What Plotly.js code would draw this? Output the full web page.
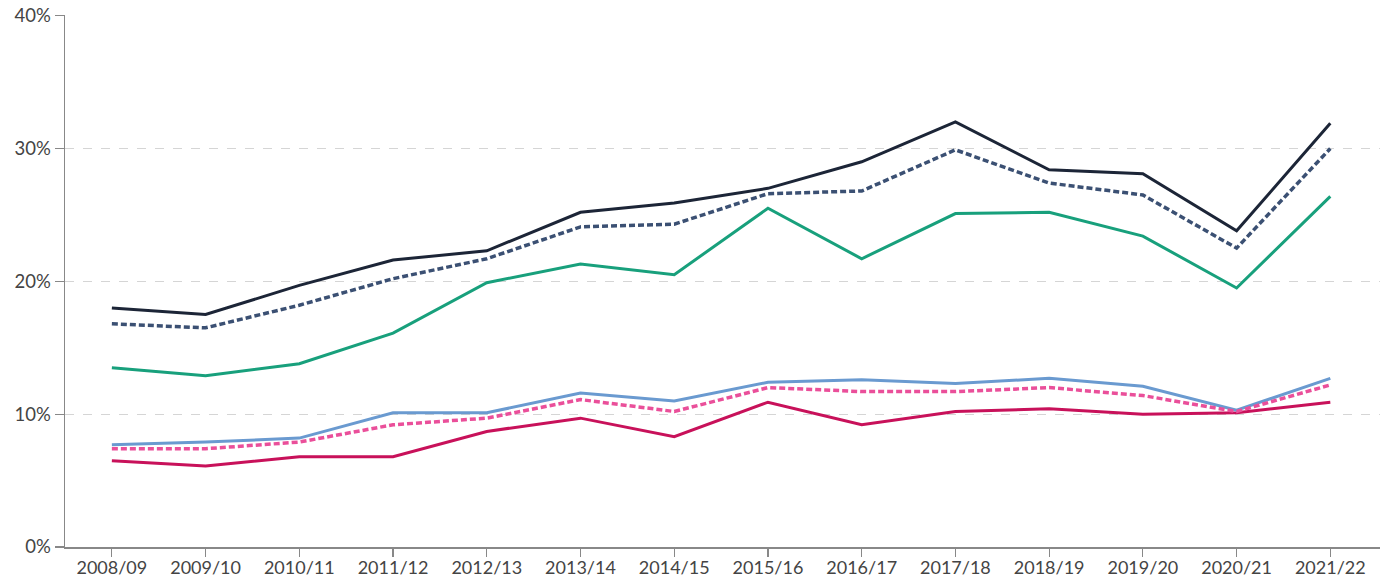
<!DOCTYPE html>
<html>
<head>
<meta charset="utf-8">
<script src="https://cdn.plot.ly/plotly-3.0.1.min.js"></script>
<style>html,body{margin:0;padding:0;background:#fff;}#chart{width:1386px;height:581px;}</style>
</head>
<body>
<div id="chart"></div>
<script>
const years = ["2008/09","2009/10","2010/11","2011/12","2012/13","2013/14","2014/15","2015/16","2016/17","2017/18","2018/19","2019/20","2020/21","2021/22"];
const navySolid = [18.0,17.5,19.7,21.6,22.3,25.2,25.9,27.0,29.0,32.0,28.4,28.1,23.8,31.9];
const navyDashed = [16.8,16.5,18.2,20.2,21.7,24.1,24.3,26.6,26.8,29.9,27.4,26.5,22.5,30.0];
const green = [13.5,12.9,13.8,16.1,19.9,21.3,20.5,25.5,21.7,25.1,25.2,23.4,19.5,26.4];
const lightBlue = [7.7,7.9,8.2,10.1,10.1,11.6,11.0,12.4,12.6,12.3,12.7,12.1,10.3,12.7];
const pinkDashed = [7.4,7.4,7.9,9.2,9.7,11.1,10.2,12.0,11.7,11.7,12.0,11.4,10.2,12.2];
const crimson = [6.5,6.1,6.8,6.8,8.7,9.7,8.3,10.9,9.2,10.2,10.4,10.0,10.1,10.9];
const yTicks = [0,10,20,30,40];
const yTickLabels = ["0%","10%","20%","30%","40%"];

function tr(y, color, dash, w){
  return {x: years, y: y, type:'scatter', mode:'lines', line:{color:color, width:w||3, dash:dash}, hoverinfo:'skip'};
}
const data = [
  tr(crimson,'#c8115a','solid'),
  tr(lightBlue,'#6a9ad0','solid'),
  tr(pinkDashed,'#ea4f9a','6px,3px',3.5),
  tr(green,'#18a07c','solid'),
  tr(navyDashed,'#3b5073','6px,3px',3.5),
  tr(navySolid,'#1c2537','solid')
];
const layout = {
  width:1386, height:581,
  margin:{l:65, r:6, t:15, b:34},
  paper_bgcolor:'#fff', plot_bgcolor:'#fff',
  showlegend:false,
  font:{family:'Lato, "Open Sans", sans-serif', size:18, color:'#444'},
  xaxis:{
    type:'category', range:[-0.5,13.53],
    showgrid:false, zeroline:false,
    showline:true, linecolor:'#888', linewidth:1.5,
    ticks:'outside', ticklen:8, tickcolor:'#888', tickwidth:1.2,
    ticklabelstandoff:-4,
    tickfont:{size:18, color:'#444'}
  },
  yaxis:{
    range:[0,40.05], tickvals:yTicks, ticktext:yTickLabels,
    showgrid:true, gridcolor:'#d5d5d5', griddash:'dash', gridwidth:1,
    zeroline:false,
    showline:true, linecolor:'#888', linewidth:1.5,
    ticks:'outside', ticklen:9, tickcolor:'#888', tickwidth:1.2,
    tickfont:{size:18.5, color:'#444'}
  }
};
Plotly.newPlot('chart', data, layout, {displayModeBar:false, staticPlot:true});
</script>
</body>
</html>
